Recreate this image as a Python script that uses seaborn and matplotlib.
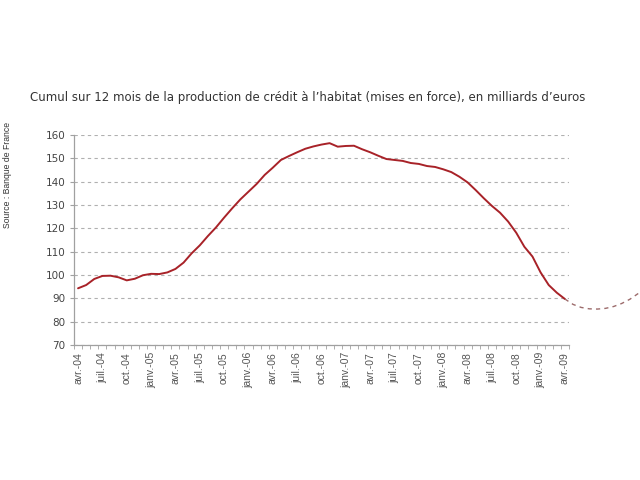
import matplotlib
matplotlib.use("Agg")
import matplotlib.pyplot as plt
import seaborn as sns
import pandas as pd
import numpy as np

# ---- data ----
values = [94.3, 95.7, 98.3, 99.6, 99.7, 99.0, 97.7, 98.4, 99.9, 100.5,
          100.4, 101.1, 102.6, 105.3, 109.3, 112.7, 116.7, 120.4, 124.6, 128.6,
          132.4, 135.7, 139.0, 142.9, 146.0, 149.3, 151.0, 152.6, 154.1, 155.1,
          155.9, 156.5, 155.0, 155.3, 155.4, 153.9, 152.6, 151.1, 149.7, 149.3,
          148.9, 148.0, 147.6, 146.7, 146.3, 145.3, 144.1, 142.1, 139.7, 136.4,
          132.9, 129.6, 126.7, 122.9, 118.1, 112.1, 107.9, 101.1, 95.7, 92.4,
          89.7]
proj_months = [60, 61, 62, 63, 64, 65, 66, 67, 68, 69, 69.8]
proj_values = [89.7, 87.4, 86.1, 85.5, 85.4, 85.7, 86.5, 87.8, 89.6, 92.0, 94.2]
tick_labels = ["avr.-04", "juil.-04", "oct.-04", "janv.-05", "avr.-05", "juil.-05",
               "oct.-05", "janv.-06", "avr.-06", "juil.-06", "oct.-06", "janv.-07",
               "avr.-07", "juil.-07", "oct.-07", "janv.-08", "avr.-08", "juil.-08",
               "oct.-08", "janv.-09", "avr.-09"]
title = "Cumul sur 12 mois de la production de crédit à l\u2019habitat (mises en force), en milliards d\u2019euros"
source = "Source : Banque de France"

df = pd.DataFrame({"month": np.arange(len(values)), "value": values})
dfp = pd.DataFrame({"month": proj_months, "value": proj_values})

sns.set_style("white")
plt.rcParams["font.family"] = ["DejaVu Sans"]

fig = plt.figure(figsize=(6.4, 4.8), dpi=100)
ax = fig.add_axes([74 / 640, 1 - 345 / 480, 495 / 640, 210 / 480])

sns.lineplot(data=df, x="month", y="value", ax=ax, color="#a82228", linewidth=1.4)
sns.lineplot(data=dfp, x="month", y="value", ax=ax, color="#9c6b6b",
             linewidth=1.0, linestyle=(0, (3, 3)))
for ln in ax.lines:
    ln.set_clip_on(False)

ax.set_xlim(-0.5, 60.5)
ax.set_ylim(70, 160)
ax.set_yticks(range(70, 161, 10))
ax.set_xticks(range(0, 61, 3))
ax.set_xticklabels(tick_labels, rotation=90, fontsize=7.5, color="#555555",
                   family="Liberation Sans")
ax.set_xticks(np.arange(-0.5, 61, 1), minor=True)
ax.set_xlabel("")
ax.set_ylabel("")

for lbl in ax.get_yticklabels():
    lbl.set_fontsize(7.5)
    lbl.set_color("#444444")

ax.yaxis.grid(True, color="#b0b0b0", linestyle=(0, (3, 3)), linewidth=0.8)
ax.xaxis.grid(False)
ax.set_axisbelow(True)
for s in ["top", "right"]:
    ax.spines[s].set_visible(False)
for s in ["left", "bottom"]:
    ax.spines[s].set_color("#a0a0a0")
    ax.spines[s].set_linewidth(0.9)

ax.tick_params(axis="y", which="major", length=3, color="#a0a0a0", pad=3, left=True)
ax.tick_params(axis="x", which="major", length=0, pad=5, bottom=True)
ax.tick_params(axis="x", which="minor", length=3, color="#a0a0a0", bottom=True)

fig.text(30 / 640, 1 - 98 / 480, title, fontsize=8.5, color="#333333",
         ha="left", va="center")
fig.text(8 / 640, 1 - 175 / 480, source, fontsize=6.2, color="#333333",
         rotation=90, ha="center", va="center", family="Liberation Sans")

fig.savefig("out.png", dpi=100)
